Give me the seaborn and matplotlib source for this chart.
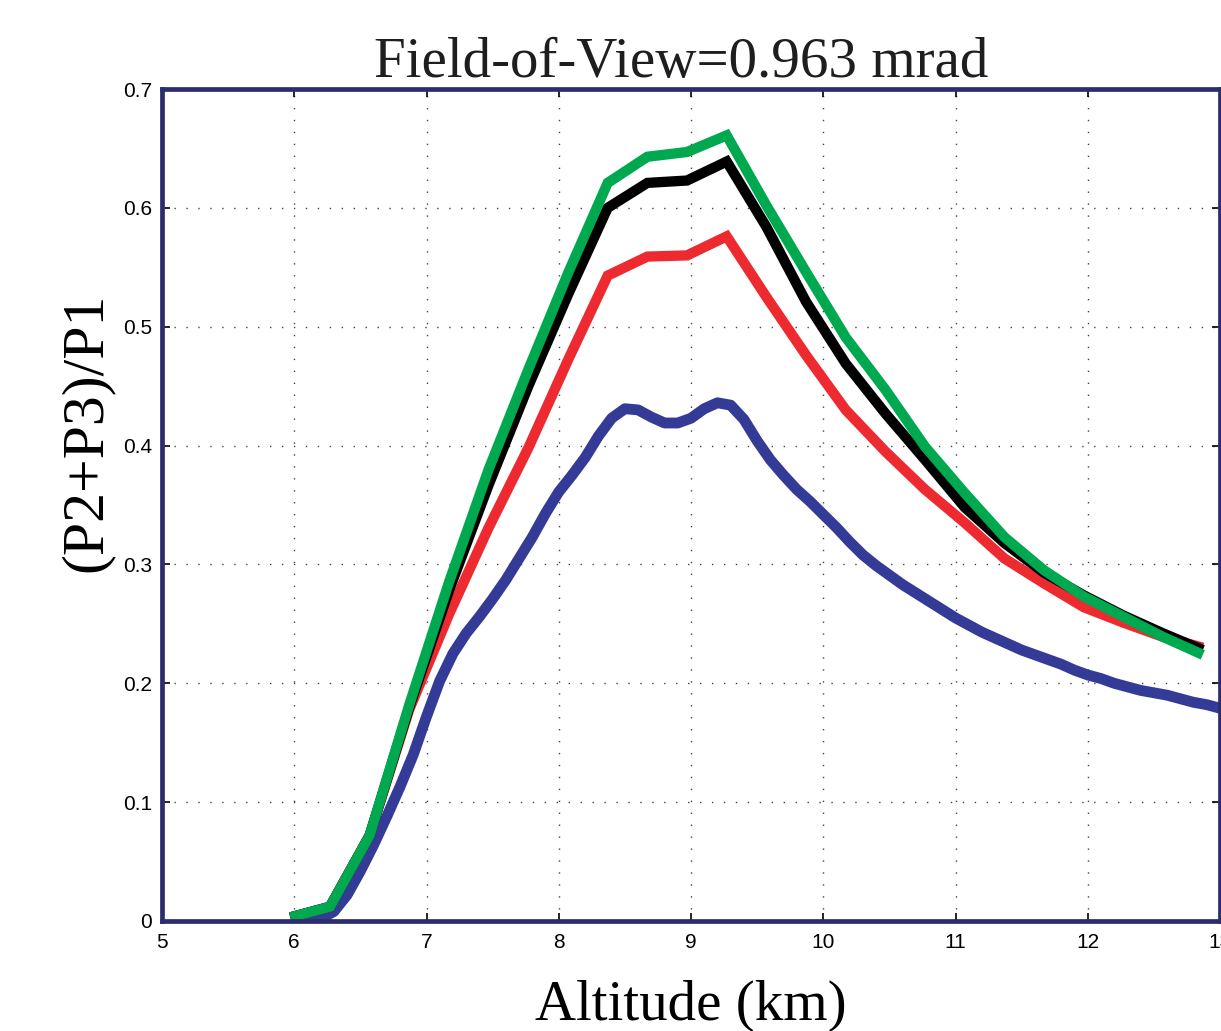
import matplotlib
matplotlib.use("Agg")
import matplotlib.pyplot as plt
import seaborn as sns
import pandas as pd

# Altitudes (km) of the coarse simulation grid
alt_coarse = [5.97, 6.27, 6.57, 6.87, 7.17, 7.47, 7.77, 8.07, 8.37, 8.67, 8.97, 9.27,
              9.57, 9.87, 10.17, 10.47, 10.77, 11.07, 11.37, 11.67, 11.97, 12.27, 12.57, 12.87]

green_y = [0.003, 0.012, 0.072, 0.182, 0.285, 0.380, 0.464, 0.545, 0.621, 0.643, 0.647, 0.661,
           0.602, 0.546, 0.491, 0.447, 0.399, 0.360, 0.323, 0.295, 0.273, 0.256, 0.239, 0.224]
black_y = [0.003, 0.012, 0.072, 0.180, 0.278, 0.367, 0.450, 0.527, 0.600, 0.621, 0.623, 0.639,
           0.584, 0.521, 0.469, 0.427, 0.388, 0.348, 0.318, 0.293, 0.274, 0.257, 0.242, 0.228]
red_y = [0.003, 0.012, 0.072, 0.178, 0.258, 0.331, 0.398, 0.472, 0.543, 0.559, 0.560, 0.576,
         0.525, 0.476, 0.430, 0.395, 0.363, 0.335, 0.305, 0.284, 0.264, 0.251, 0.239, 0.230]

# Fine-grid altitudes (km) for the smooth curve
alt_fine = [6.0, 6.1, 6.2, 6.3, 6.4, 6.5, 6.6, 6.7, 6.8, 6.9,
            7.0, 7.1, 7.2, 7.3, 7.4, 7.5, 7.6, 7.7, 7.8, 7.9,
            8.0, 8.1, 8.2, 8.3, 8.4, 8.5, 8.6, 8.7, 8.8, 8.9,
            9.0, 9.1, 9.2, 9.3, 9.4, 9.5, 9.6, 9.7, 9.8, 9.9,
            10.0, 10.1, 10.2, 10.3, 10.4, 10.5, 10.6, 10.7, 10.8, 10.9,
            11.0, 11.1, 11.2, 11.3, 11.4, 11.5, 11.6, 11.7, 11.8, 11.9,
            12.0, 12.1, 12.2, 12.3, 12.4, 12.5, 12.6, 12.7, 12.8, 12.9, 13.0]
blue_y = [0.000, 0.000, 0.002, 0.008, 0.022, 0.042, 0.064, 0.088, 0.113, 0.140,
          0.172, 0.202, 0.225, 0.242, 0.256, 0.271, 0.287, 0.305, 0.323, 0.343,
          0.361, 0.375, 0.390, 0.408, 0.423, 0.431, 0.430, 0.424, 0.419, 0.419,
          0.423, 0.431, 0.436, 0.434, 0.422, 0.404, 0.388, 0.375, 0.363, 0.353,
          0.342, 0.331, 0.319, 0.308, 0.299, 0.291, 0.283, 0.276, 0.269, 0.262,
          0.255, 0.249, 0.243, 0.238, 0.233, 0.228, 0.224, 0.220, 0.216, 0.211,
          0.207, 0.204, 0.200, 0.197, 0.194, 0.192, 0.190, 0.187, 0.184, 0.182, 0.179]

x_ticks = [5, 6, 7, 8, 9, 10, 11, 12, 13]
x_tick_labels = ["5", "6", "7", "8", "9", "10", "11", "12", "13"]
y_ticks = [0, 0.1, 0.2, 0.3, 0.4, 0.5, 0.6, 0.7]
y_tick_labels = ["0", "0.1", "0.2", "0.3", "0.4", "0.5", "0.6", "0.7"]

title_text = "Field-of-View=0.963 mrad"
x_label = "Altitude (km)"
y_label = "(P2+P3)/P1"

sns.set_theme(style="white")
plt.rcParams["font.family"] = ["Liberation Sans", "DejaVu Sans"]

NAVY = "#2c2d6e"
serif = ["Liberation Serif", "DejaVu Serif"]

fig = plt.figure(figsize=(12.21, 10.31), dpi=100)
ax = fig.add_axes([162 / 1221, 110 / 1031, 1058 / 1221, 832 / 1031])

line_kw = dict(estimator=None, legend=False, solid_capstyle="butt")
sns.lineplot(data=pd.DataFrame({"alt": alt_fine, "val": blue_y}), x="alt", y="val",
             color="#343b96", linewidth=7.8, ax=ax, zorder=3,
             solid_joinstyle="round", **line_kw)
sns.lineplot(data=pd.DataFrame({"alt": alt_coarse, "val": red_y}), x="alt", y="val",
             color="#ec2a30", linewidth=7.4, ax=ax, zorder=4,
             solid_joinstyle="miter", **line_kw)
sns.lineplot(data=pd.DataFrame({"alt": alt_coarse, "val": black_y}), x="alt", y="val",
             color="#000000", linewidth=7.4, ax=ax, zorder=5,
             solid_joinstyle="miter", **line_kw)
sns.lineplot(data=pd.DataFrame({"alt": alt_coarse, "val": green_y}), x="alt", y="val",
             color="#00a84f", linewidth=7.4, ax=ax, zorder=6,
             solid_joinstyle="miter", **line_kw)

ax.set_xlim(5, 13)
ax.set_ylim(0, 0.7)
ax.set_xticks(x_ticks)
ax.set_xticklabels(x_tick_labels)
ax.set_yticks(y_ticks)
ax.set_yticklabels(y_tick_labels)

ax.grid(True, color="#444444", linestyle=(0, (1, 7.6)), linewidth=1.0)
ax.tick_params(axis="both", which="major", direction="in", length=6, width=1.2,
               color="black", labelsize=15, labelcolor="black",
               top=True, right=True, bottom=True, left=True)
ax.tick_params(axis="x", pad=9)
ax.tick_params(axis="y", pad=7)

for side in ["left", "right", "top", "bottom"]:
    ax.spines[side].set_visible(True)
    ax.spines[side].set_color(NAVY)
    ax.spines[side].set_linewidth(3.4)
    ax.spines[side].set_zorder(7)

ax.set_title(title_text, fontsize=41, family=serif, color="#1e1e1e", x=0.491, pad=9)
ax.set_xlabel(x_label, fontsize=41, family=serif, color="black", labelpad=20)
ax.set_ylabel(y_label, fontsize=43, family=serif, color="black")
ax.yaxis.set_label_coords(-0.046, 0.587)

fig.savefig("out.png", dpi=100)
